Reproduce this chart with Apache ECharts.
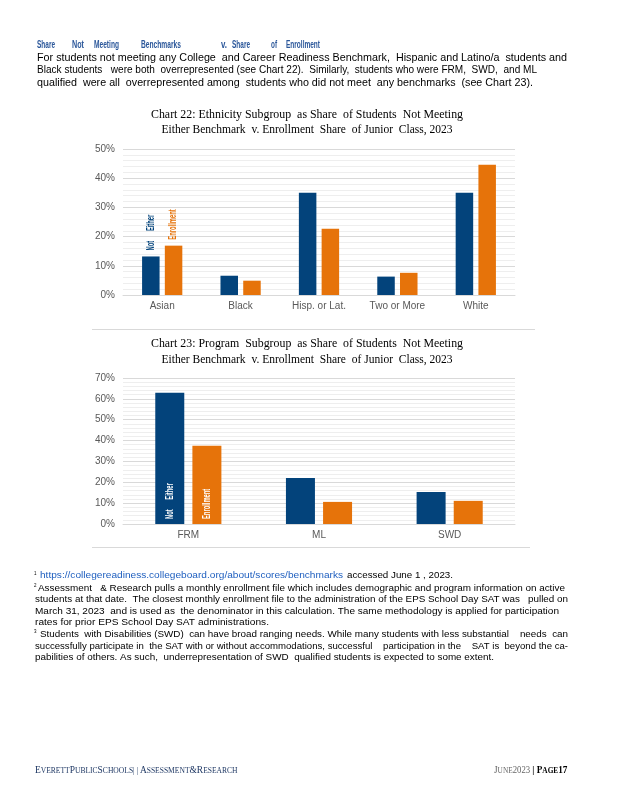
<!DOCTYPE html>
<html>
<head>
<meta charset="utf-8">
<script src="https://cdn.jsdelivr.net/npm/echarts@6/dist/echarts.min.js"></script>
<style>
  html, body { margin:0; padding:0; background:#fff; }
  #main { width:618px; height:800px; }
</style>
</head>
<body>
<div id="main"></div>
<script>
// ---- data ----
const ethCategories = ['Asian', 'Black', 'Hisp. or Lat.', 'Two or More', 'White'];
const ethNotMeeting = [13.2, 6.6, 35.0, 6.3, 35.0];
const ethEnrollment = [16.9, 4.9, 22.7, 7.6, 44.6];

const progCategories = ['FRM', 'ML', 'SWD'];
const progNotMeeting = [62.9, 22.1, 15.4];
const progEnrollment = [37.5, 10.6, 11.1];

const ethAxisMax = 50, progAxisMax = 70, axisStep = 10;
const seriesNames = ['Not Either', 'Enrollment'];
const barLabels = ['Not      Either', 'Enrollment'];

const BLUE = '#03437B', ORANGE = '#E6730A';

// ---- text helpers ----
const ctx = document.createElement('canvas').getContext('2d');
function measure(text, size, family, weight) {
  ctx.font = (weight || 'normal') + ' ' + size + 'px ' + family;
  return ctx.measureText(text).width;
}
function fitText(text, x, y, width, size, family, fill, align, weight) {
  const w = measure(text, size, family, weight);
  return {
    type: 'text', x: x, y: y, scaleX: width / w,
    style: { text: text, fontSize: size, fontFamily: family, fontWeight: weight || 'normal',
             fill: fill, align: align || 'left', verticalAlign: 'middle' }
  };
}
const SANS = '"Liberation Sans", Arial, sans-serif';
const SERIF = '"Liberation Serif", "Times New Roman", serif';

const graphics = [];
// heading words
const HEAD = '#2B579A';
[['Share',37,18],['Not',72,12],['Meeting',94,25],['Benchmarks',141,40],
 ['v.',221,6],['Share',232,18],['of',271,6],['Enrollment',286,34]].forEach(w => {
  graphics.push(fitText(w[0], w[1], 44.5, w[2], 11.5, SANS, HEAD, 'left', 'bold'));
});
// body paragraph
[['For students not meeting any College  and Career Readiness Benchmark,  Hispanic and Latino/a  students and', 57.5, 530],
 ['Black students   were both  overrepresented (see Chart 22).  Similarly,  students who were FRM,  SWD,  and ML', 70.3, 500],
 ['qualified  were all  overrepresented among  students who did not meet  any benchmarks  (see Chart 23).', 83, 496]
].forEach(l => graphics.push(fitText(l[0], 37, l[1], l[2], 11, SANS, '#000')));

// chart titles
graphics.push(fitText('Chart 22: Ethnicity Subgroup  as Share  of Students  Not Meeting', 307, 115, 312, 12.5, SERIF, '#000', 'center'));
graphics.push(fitText('Either Benchmark  v. Enrollment  Share  of Junior  Class, 2023', 307, 130, 291, 12.5, SERIF, '#000', 'center'));
graphics.push(fitText('Chart 23: Program  Subgroup  as Share  of Students  Not Meeting', 307, 344, 312, 12.5, SERIF, '#000', 'center'));
graphics.push(fitText('Either Benchmark  v. Enrollment  Share  of Junior  Class, 2023', 307, 359.3, 291, 12.5, SERIF, '#000', 'center'));

// separator lines
graphics.push({ type:'line', shape:{x1:92, y1:329.5, x2:535, y2:329.5}, style:{stroke:'#d9d9d9', lineWidth:1} });
graphics.push({ type:'line', shape:{x1:92, y1:547.5, x2:530, y2:547.5}, style:{stroke:'#d9d9d9', lineWidth:1} });

// footnotes
graphics.push(fitText('1', 34, 573, 2.5, 6, SANS, '#000'));
graphics.push(fitText('https://collegereadiness.collegeboard.org/about/scores/benchmarks', 40, 575.7, 303, 9.5, SANS, '#1F5FBF'));
graphics.push(fitText('accessed June 1 , 2023.', 347, 575.7, 106, 9.5, SANS, '#000'));
graphics.push(fitText('2', 34, 585, 2.5, 6, SANS, '#000'));
graphics.push(fitText('3', 34, 631, 2.5, 6, SANS, '#000'));
[['Assessment   & Research pulls a monthly enrollment file which includes demographic and program information on active', 38, 588, 527],
 ['students at that date.  The closest monthly enrollment file to the administration of the EPS School Day SAT was   pulled on', 35, 599.5, 533],
 ['March 31, 2023  and is used as  the denominator in this calculation. The same methodology is applied for participation', 35, 611, 524],
 ['rates for prior EPS School Day SAT administrations.', 35, 622.5, 234],
 ['Students  with Disabilities (SWD)  can have broad ranging needs. While many students with less substantial    needs  can', 40, 634.3, 528],
 ['successfully participate in  the SAT with or without accommodations, successful    participation in the    SAT is  beyond the ca-', 35, 646, 533],
 ['pabilities of others. As such,  underrepresentation of SWD  qualified students is expected to some extent.', 35, 657, 459]
].forEach((l, i) => {
  graphics.push(fitText(l[0], l[1], l[2], l[3], 9.5, SANS, '#000'));
});

// footer
const FOOT = '#1F3864';
graphics.push({
  type:'text', x:35, y:770.5, scaleX:0.944,
  style:{
    text:'{b|E}{s|VERETT}{b|P}{s|UBLIC}{b|S}{s|CHOOLS}{s|| | }{b|A}{s|SSESSMENT}{b|&}{b|R}{s|ESEARCH}',
    fontFamily: SERIF, fill: FOOT, verticalAlign:'middle',
    rich:{ b:{fontSize:10, fontFamily:SERIF, fill:FOOT}, s:{fontSize:8, fontFamily:SERIF, fill:FOOT} }
  }
});
graphics.push({
  type:'text', x:494, y:770.5, scaleX:0.92,
  style:{
    text:'{b|J}{s|UNE}{n|2023 }{k|| P}{ks|AGE}{k|17}',
    fontFamily: SERIF, verticalAlign:'middle',
    rich:{ b:{fontSize:10, fontFamily:SERIF, fill:'#666'}, s:{fontSize:8, fontFamily:SERIF, fill:'#666'},
           n:{fontSize:9.5, fontFamily:SERIF, fill:'#666'},
           k:{fontSize:10, fontFamily:SERIF, fill:'#000', fontWeight:'bold'},
           ks:{fontSize:8, fontFamily:SERIF, fill:'#000', fontWeight:'bold'} }
  }
});

// ---- chart ----
function valueAxis(idx, max) {
  return {
    type: 'value', gridIndex: idx, min: 0, max: max, interval: axisStep,
    axisLabel: { formatter: '{value}%', color: '#595959', fontSize: 10, fontFamily: SANS, margin: 8 },
    axisLine: { show: false }, axisTick: { show: false },
    splitLine: { lineStyle: { color: '#d9d9d9', width: 1 } },
    minorTick: { show: false, splitNumber: 5 },
    minorSplitLine: { show: true, lineStyle: { color: '#eeeeee', width: 1 } }
  };
}
function catAxis(idx, data) {
  return {
    type: 'category', gridIndex: idx, data: data,
    axisTick: { show: false },
    axisLine: { lineStyle: { color: '#d9d9d9', width: 1 } },
    axisLabel: { color: '#595959', fontSize: 10, fontFamily: SANS, margin: 6 }
  };
}

const chart = echarts.init(document.getElementById('main'), null, { renderer: 'canvas' });
chart.setOption({
  backgroundColor: '#fff',
  animation: false,
  grid: [
    { left: 123, top: 149, width: 392, height: 146 },
    { left: 123, top: 378, width: 392, height: 146 }
  ],
  xAxis: [catAxis(0, ethCategories), catAxis(1, progCategories)],
  yAxis: [valueAxis(0, ethAxisMax), valueAxis(1, progAxisMax)],
  series: [
    { type: 'bar', name: seriesNames[0], xAxisIndex: 0, yAxisIndex: 0, barWidth: 17.5, barGap: '30%',
      itemStyle: { color: BLUE }, data: ethNotMeeting },
    { type: 'bar', name: seriesNames[1], xAxisIndex: 0, yAxisIndex: 0, barWidth: 17.5, barGap: '30%',
      itemStyle: { color: ORANGE }, data: ethEnrollment },
    { type: 'bar', name: seriesNames[0], xAxisIndex: 1, yAxisIndex: 1, barWidth: 29, barGap: '28%',
      itemStyle: { color: BLUE }, data: progNotMeeting },
    { type: 'bar', name: seriesNames[1], xAxisIndex: 1, yAxisIndex: 1, barWidth: 29, barGap: '28%',
      itemStyle: { color: ORANGE }, data: progEnrollment }
  ],
  graphic: graphics
});

// condensed rotated labels on the first bar of each series, anchored to the library's bar layout
function barLabel(seriesIndex, text, color, inside) {
  const data = chart.getModel().getSeriesByIndex(seriesIndex).getData();
  const l = data.getItemLayout(0);
  const cx = l.x + l.width / 2;
  const bottom = Math.max(l.y, l.y + l.height);
  const top = Math.min(l.y, l.y + l.height);
  return {
    type: 'text', z: 100, x: cx, y: inside ? bottom - 5 : top - 6, rotation: Math.PI / 2, scaleX: 0.58,
    style: { text: text, fontSize: 10, fontWeight: 'bold', fontFamily: SANS, fill: color,
             align: 'left', verticalAlign: 'middle' }
  };
}
graphics.push(barLabel(0, barLabels[0], BLUE, false));
graphics.push(barLabel(1, barLabels[1], ORANGE, false));
graphics.push(barLabel(2, barLabels[0], '#fff', true));
graphics.push(barLabel(3, barLabels[1], '#fff', true));
chart.setOption({ graphic: { elements: graphics } });
</script>
</body>
</html>
